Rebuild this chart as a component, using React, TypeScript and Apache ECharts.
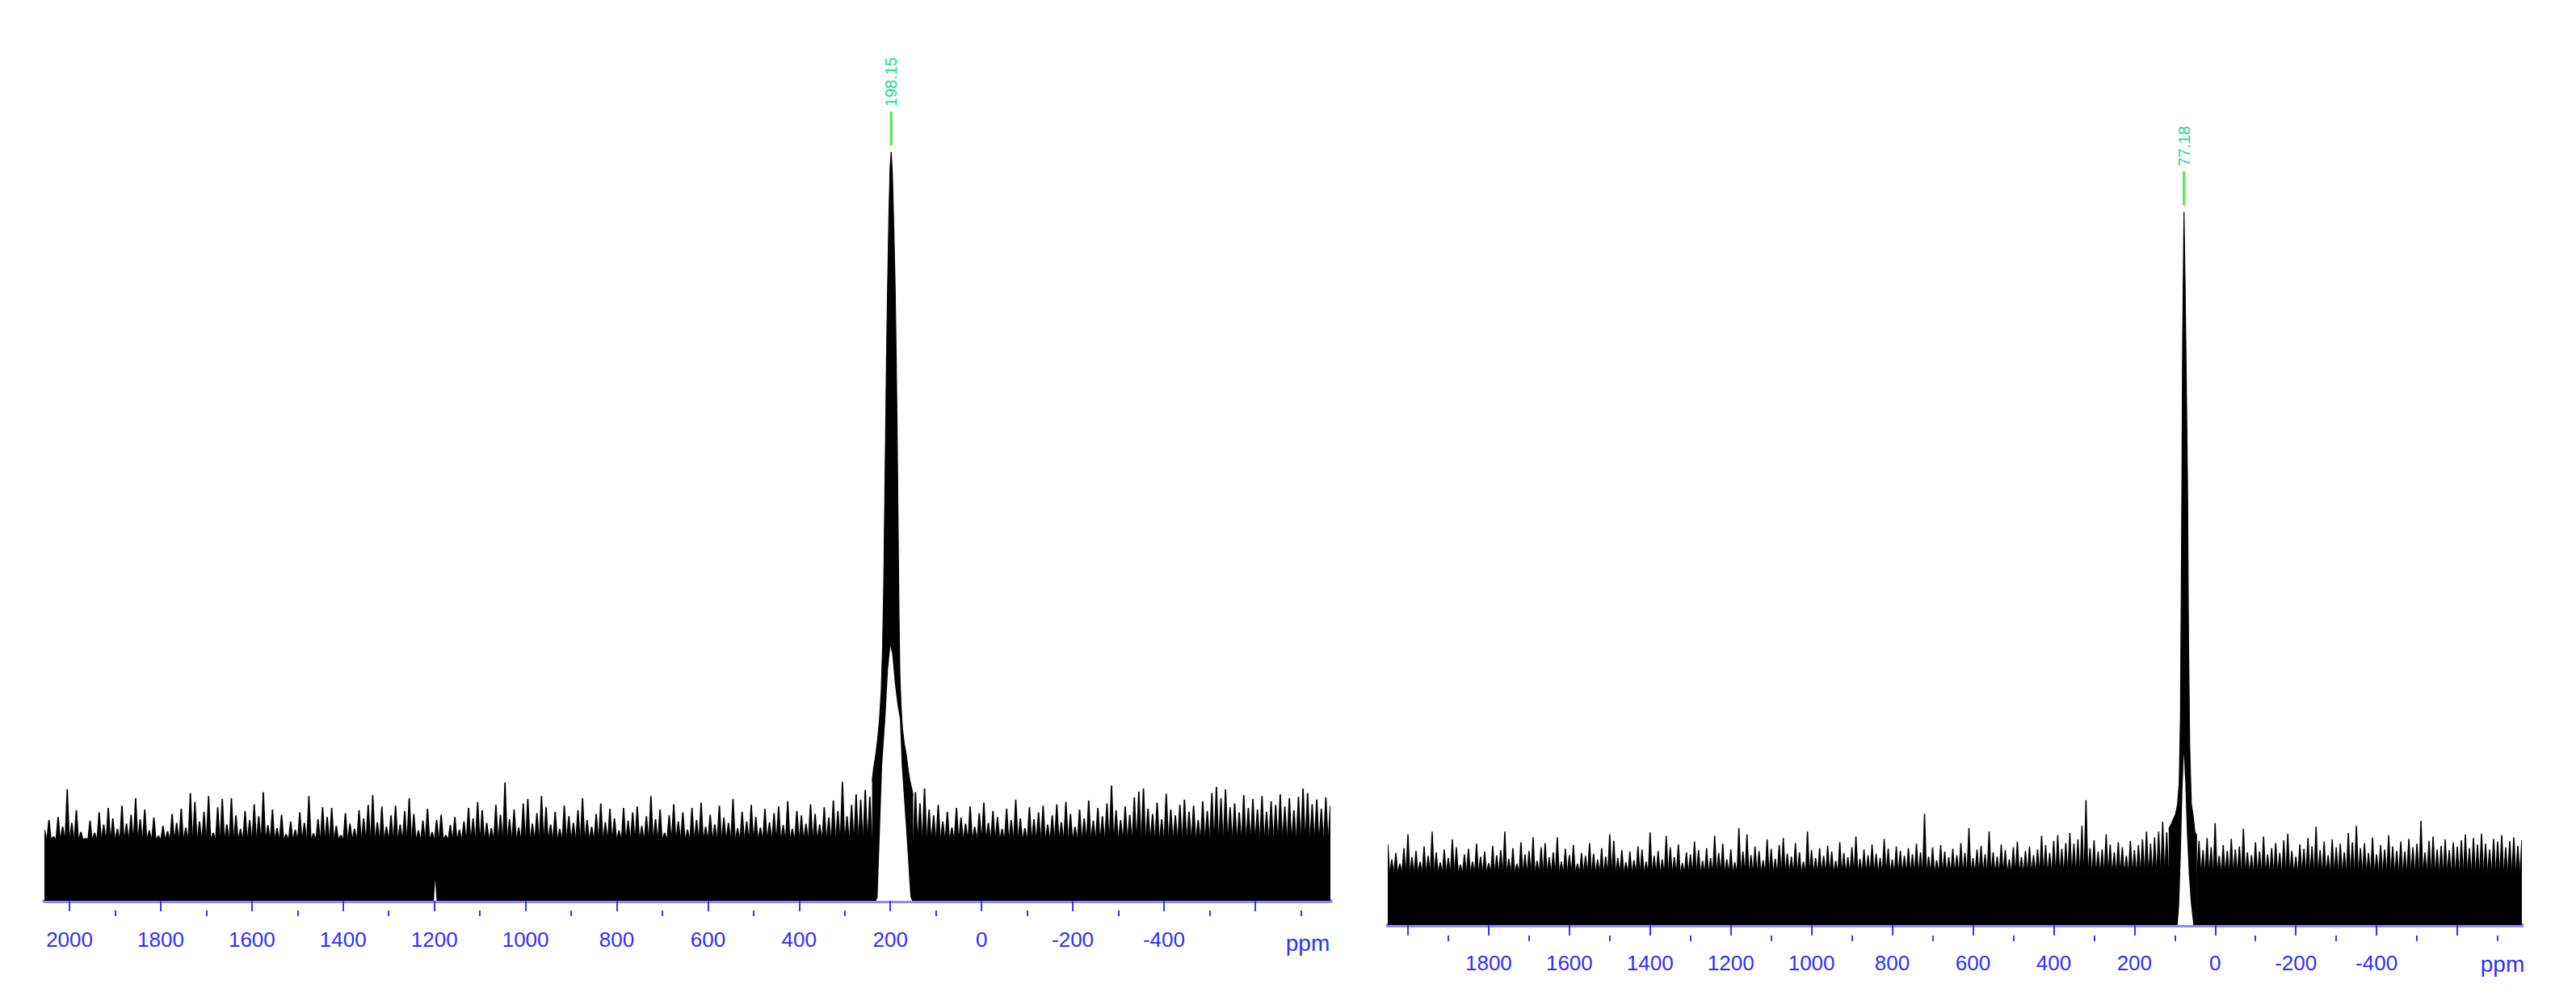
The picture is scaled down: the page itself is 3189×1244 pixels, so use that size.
import { useEffect, useRef } from "react";
import * as echarts from "echarts";

// ---------- axis ticks / labels (ppm) ----------
const majorTicks = [2000, 1800, 1600, 1400, 1200, 1000, 800, 600, 400, 200, 0, -200, -400, -600];
const minorTicks = [1900, 1700, 1500, 1300, 1100, 900, 700, 500, 300, 100, -100, -300, -500, -700];
const leftTickLabels = [2000, 1800, 1600, 1400, 1200, 1000, 800, 600, 400, 200, 0, -200, -400];
const rightTickLabels = [1800, 1600, 1400, 1200, 1000, 800, 600, 400, 200, 0, -200, -400];
const axisUnit = "ppm";

// ---------- left spectrum ----------
const leftRange = [-765, 2055];
const leftNoiseFloor = 8.2; // top of the solid black noise band
const leftNoiseAStart = 2055; // ppm of first value, 10 ppm apart
const leftNoiseA = [
  9.5, 10.8, 8.6, 11.2, 9.9, 14.9, 10.4, 12.1, 9.2, 8.4,
  10.7, 9.1, 11.8, 10.2, 12.4, 11.0, 9.6, 12.7, 10.3, 11.5,
  13.7, 10.9, 12.2, 9.4, 11.1, 8.7, 10.0, 9.3, 11.6, 10.4,
  12.3, 9.8, 14.4, 13.2, 10.6, 11.9, 14.0, 9.1, 12.5, 13.6,
  10.2, 13.7, 11.4, 9.6, 12.0, 10.8, 12.9, 11.3, 14.5, 10.1,
  12.2, 9.7, 11.5, 8.9, 10.6, 9.5, 11.8, 10.4, 14.0, 9.0,
  10.9, 12.5, 11.2, 12.4, 10.0, 8.8, 11.7, 10.3, 9.6, 12.1,
  11.0, 12.8, 14.1, 10.5, 12.6, 9.9, 11.4, 12.7, 10.2, 12.0,
  13.7, 11.6, 9.4, 10.7, 12.3, 9.2, 10.8, 11.5, 8.8, 10.1,
  11.2, 9.5, 10.6, 12.4, 11.0, 13.2, 12.1, 10.4, 9.7, 12.8,
  11.5, 15.8, 10.9, 12.2, 9.8, 13.0, 13.6, 10.3, 11.7, 14.0,
  12.5, 10.2, 11.9, 9.6, 12.7, 11.3, 10.4, 12.1, 13.7, 10.8,
  9.9, 11.6, 13.0, 10.5, 12.3, 11.0, 9.4, 12.4, 10.7, 11.8,
  12.6, 10.0, 11.3, 14.0, 10.9, 12.2, 9.1, 11.4, 12.9, 10.6,
  11.8, 9.5, 12.4, 10.8, 13.1, 9.9, 11.5, 10.2, 12.7, 11.1,
  10.4, 13.6, 9.7, 11.9, 10.6, 12.8, 11.2, 9.8, 12.3, 10.5,
  11.7, 12.6, 10.1, 13.3, 9.6, 12.0, 11.4, 10.3, 12.9, 11.6,
  10.2, 12.5, 11.1, 13.4, 12.0, 15.9, 11.3, 12.8, 14.2, 13.5,
  14.8, 13.9,
];
const leftPeakPpm = [240, 236, 232, 228, 224, 220, 217, 214.5, 212.5, 210.5, 208.5, 206, 203, 200.5, 198.15, 195.5, 192.5, 189.5, 187, 185, 183, 181, 179, 176.5, 173.5, 169.5, 165, 161, 157, 153, 150];
const leftPeakUpper = [16, 18, 19.5, 21.5, 24, 28, 34, 42, 52, 62, 72, 82, 92, 98, 100, 97, 90, 82, 72, 62, 50, 38, 30, 26, 23, 21, 19.5, 17.5, 16, 15, 14];
const leftPeakLowerPpm = [231, 228, 223, 218, 211, 205, 200, 196, 190, 184, 179, 175, 165, 156, 152];
const leftPeakLower = [0, 0.5, 9.2, 18.1, 24.3, 31, 34, 33, 29, 26, 24.3, 18.1, 9.2, 0.5, 0];
const leftGapPpm = [1201, 1198, 1195];
const leftGapLower = [0, 2.8, 0];
const leftNoiseBStart = 145;
const leftNoiseB = [
  14.5, 13.0, 15.0, 12.2, 11.4, 12.8, 10.6, 11.9, 9.8, 12.4,
  11.1, 10.3, 12.6, 9.9, 11.7, 13.1, 10.4, 12.0, 11.2, 9.6,
  12.3, 10.8, 13.5, 11.0, 9.7, 12.5, 10.9, 11.8, 12.7, 10.2,
  11.4, 12.9, 10.5, 13.2, 11.6, 9.9, 12.2, 11.0, 13.4, 10.7,
  12.4, 11.3, 13.0, 15.4, 12.1, 10.8, 12.6, 11.5, 13.8, 14.6,
  15.0, 12.3, 11.6, 13.1, 10.9, 14.3, 12.2, 11.4, 12.8, 13.5,
  11.9, 12.7, 10.8, 13.3, 12.0, 14.4, 15.2, 13.7, 14.9, 12.5,
  13.0, 11.8, 14.1, 12.4, 13.6, 12.2, 14.0, 11.9, 13.3, 12.8,
  14.2, 12.6, 13.7, 12.1, 13.9, 15.0, 14.4, 12.9, 13.5, 12.3,
  13.8, 12.7,
];
const leftPeak = { ppm: 198.15, height: 100 };
const leftYRange = [-1.294, 109.49];

// ---------- right spectrum ----------
const rightRange = [-760, 2050];
const rightNoiseFloor = 7.4;
const rightNoiseAStart = 2050;
const rightNoiseA = [
  11.3, 9.2, 10.1, 8.6, 10.8, 12.7, 9.5, 10.4, 8.9, 11.0,
  9.7, 13.1, 10.2, 8.8, 10.6, 9.4, 12.0, 10.9, 8.5, 9.9,
  10.7, 8.9, 11.4, 9.6, 10.3, 8.7, 11.1, 9.8, 10.5, 13.1,
  9.3, 10.8, 8.6, 11.6, 9.9, 10.4, 12.3, 9.0, 10.9, 11.5,
  9.5, 10.2, 12.3, 8.9, 10.7, 9.8, 11.2, 8.6, 10.1, 9.7,
  11.5, 10.0, 9.2, 10.8, 9.6, 12.7, 11.8, 9.4, 10.5, 8.8,
  10.3, 9.1, 11.0, 10.6, 8.9, 13.0, 9.7, 10.4, 9.2, 12.5,
  10.9, 9.5, 11.3, 8.7, 10.2, 9.9, 11.7, 10.5, 9.0, 10.8,
  9.4, 12.5, 10.1, 11.4, 9.2, 10.6, 8.8, 13.6, 10.3, 12.7,
  9.8, 11.0, 10.4, 9.1, 12.0, 10.7, 9.3, 11.2, 12.2, 10.0,
  9.6, 11.5, 10.2, 8.9, 13.1, 10.5, 9.4, 10.8, 9.7, 11.1,
  10.3, 9.0, 11.6, 10.1, 9.5, 10.9, 12.4, 9.3, 10.6, 9.8,
  11.3, 10.0, 9.4, 12.1, 10.7, 9.2, 11.0, 10.4, 9.7, 10.8,
  9.9, 11.4, 10.2, 15.6, 9.6, 10.9, 9.1, 11.2, 10.3, 9.5,
  10.7, 9.8, 11.5, 10.1, 13.6, 9.4, 10.6, 11.1, 9.9, 13.1,
  10.2, 9.6, 11.3, 10.5, 9.2, 10.9, 11.7, 9.5, 10.4, 11.0,
  9.8, 10.6, 12.5, 11.2, 10.1, 11.8, 12.6, 10.7, 11.5, 12.9,
  11.4, 12.0, 13.9, 17.5, 10.8, 11.9, 10.3, 10.6, 12.7, 11.3,
  10.2, 11.6, 10.9, 9.7, 11.8, 10.5, 11.2, 12.0, 13.1, 11.4,
  12.3, 13.1, 14.5, 13.0,
];
const rightPeakPpm = [115, 110, 104, 98, 93, 89, 86, 83, 80.5, 77.18, 74.5, 71, 68.5, 66, 63, 59, 55, 50, 45];
const rightPeakUpper = [13.5, 14.0, 14.8, 15.5, 17.0, 20.0, 29.0, 55.0, 82.0, 100, 90, 74, 62, 40, 25, 17, 15.5, 13.0, 12.5];
const rightPeakLowerPpm = [93, 89, 85, 81, 77.5, 74, 70, 65, 60, 54];
const rightPeakLower = [0, 3, 10, 19, 24, 20, 13, 7, 3, 0];
const rightNoiseBStart = 40;
const rightNoiseB = [
  11.8, 10.5, 12.2, 10.9, 14.3, 9.7, 11.2, 10.4, 12.1, 10.6,
  11.0, 13.5, 10.2, 9.8, 11.6, 10.3, 12.4, 9.9, 10.8, 11.5,
  10.1, 11.9, 12.8, 10.4, 9.6, 11.3, 10.7, 12.2, 11.0, 13.8,
  10.5, 11.7, 9.8, 12.0, 10.9, 11.4, 10.2, 12.9, 11.6, 13.9,
  10.8, 11.5, 10.1, 12.3, 9.9, 11.2, 10.6, 12.6, 11.0, 10.4,
  11.7, 10.3, 12.1, 10.9, 11.4, 14.6, 10.2, 11.8, 12.4, 10.6,
  11.1, 12.0, 10.5, 11.6, 11.0, 11.9, 12.7, 10.8, 12.2, 11.3,
  12.8, 11.4, 10.6, 12.1, 11.7, 12.6, 10.9, 11.8, 12.3, 11.1,
  11.9,
];
const rightPeak = { ppm: 77.18, height: 100 };
const rightYRange = [-1.472, 112.68];

// ---------- helpers ----------
const STEP = 10;
function noisePairs(start: number, vals: number[]) {
  return vals.map((v, i) => [start - i * STEP, v]);
}
function zip(xs: number[], ys: number[]) {
  return xs.map((x, i) => [x, ys[i]]);
}

const AXIS_BLUE = "#8a8aff";
const TICK_BLUE = "#3434ff";
const LABEL_BLUE = "#2f2fff";
const FONT = "Liberation Sans, Arial, sans-serif";

// noise: each reading is a spike rising from the solid band
function noiseSeries(idx: number, data: number[][], floor: number) {
  return {
    type: "custom",
    xAxisIndex: idx,
    yAxisIndex: idx,
    data,
    encode: { x: 0, y: 1 },
    clip: true,
    silent: true,
    z: 2,
    renderItem: (_params: any, api: any) => {
      const x = api.value(0);
      const v = api.value(1);
      const top = api.coord([x, v]);
      const fl = api.coord([x, floor]);
      const zero = api.coord([x, 0]);
      const w = Math.abs(api.size([STEP, 0])[0]) / 2;
      return {
        type: "group",
        children: [
          {
            type: "rect",
            shape: { x: top[0] - w - 0.6, y: fl[1] - 0.5, width: 2 * w + 1.2, height: zero[1] - fl[1] + 0.5 },
            style: { fill: "#000" },
          },
          {
            type: "polygon",
            shape: {
              points: [
                [top[0] - w - 0.4, fl[1]],
                [top[0] - 0.3 * w, top[1]],
                [top[0] + 0.3 * w, top[1]],
                [top[0] + w + 0.4, fl[1]],
              ],
            },
            style: { fill: "#000" },
          },
        ],
      };
    },
  };
}

function peakSeries(idx: number, data: number[][]) {
  return {
    type: "line",
    xAxisIndex: idx,
    yAxisIndex: idx,
    data,
    symbol: "none",
    showSymbol: false,
    lineStyle: { color: "#000000", width: 1.2 },
    areaStyle: { color: "#000000", opacity: 1, origin: "auto" },
    z: 2,
    silent: true,
  };
}
function hollowSeries(idx: number, data: number[][]) {
  return {
    type: "line",
    xAxisIndex: idx,
    yAxisIndex: idx,
    data,
    symbol: "none",
    showSymbol: false,
    lineStyle: { width: 0, color: "#ffffff" },
    areaStyle: { color: "#ffffff", opacity: 1, origin: "auto" },
    z: 3,
    silent: true,
  };
}

function peakLabelSeries(idx: number, peak: { ppm: number; height: number }) {
  return {
    type: "custom",
    xAxisIndex: idx,
    yAxisIndex: idx,
    clip: false,
    z: 10,
    data: [[peak.ppm, peak.height]],
    renderItem: (_params: any, api: any) => {
      const p = api.coord([api.value(0), api.value(1)]);
      return {
        type: "group",
        children: [
          {
            type: "line",
            shape: { x1: p[0], y1: p[1] - 8, x2: p[0], y2: p[1] - 50 },
            style: { stroke: "#4fe64f", lineWidth: 3 },
          },
          {
            type: "text",
            x: p[0],
            y: p[1] - 56,
            rotation: Math.PI / 2,
            style: {
              text: peak.ppm.toFixed(2),
              fill: "#22d68c",
              fontSize: 20,
              fontFamily: FONT,
              align: "left",
              verticalAlign: "middle",
            },
          },
        ],
      };
    },
  };
}

function majorAxis(grid: number, range: number[], labels: number[], margin: number) {
  return {
    type: "value",
    gridIndex: grid,
    inverse: true,
    min: range[0],
    max: range[1],
    position: "bottom",
    axisLine: { show: true, lineStyle: { color: AXIS_BLUE, width: 5 } },
    axisTick: { show: true, length: 13, customValues: majorTicks, lineStyle: { color: TICK_BLUE, width: 2 } },
    axisLabel: {
      show: true,
      customValues: labels,
      formatter: (v: number) => String(v),
      color: LABEL_BLUE,
      fontSize: 26,
      fontFamily: FONT,
      margin,
    },
    splitLine: { show: false },
  };
}
function minorAxis(grid: number, range: number[]) {
  return {
    type: "value",
    gridIndex: grid,
    inverse: true,
    min: range[0],
    max: range[1],
    position: "bottom",
    axisLine: { show: false },
    axisTick: { show: true, length: 7, customValues: minorTicks, lineStyle: { color: TICK_BLUE, width: 2 } },
    axisLabel: { show: false },
    splitLine: { show: false },
  };
}

export default function App() {
  const ref = useRef<HTMLDivElement>(null);
  useEffect(() => {
    if (!ref.current) return;
    const chart = echarts.init(ref.current, undefined, { renderer: "svg" });

    const leftNoise = [...noisePairs(leftNoiseAStart, leftNoiseA), ...noisePairs(leftNoiseBStart, leftNoiseB)];
    const rightNoise = [...noisePairs(rightNoiseAStart, rightNoiseA), ...noisePairs(rightNoiseBStart, rightNoiseB)];

    chart.setOption({
      animation: false,
      backgroundColor: "#ffffff",
      grid: [
        { left: 55, top: 100, width: 1592, height: 1027, containLabel: false, outerBoundsMode: "none" },
        { left: 1718, top: 150, width: 1404, height: 1008, containLabel: false, outerBoundsMode: "none" },
      ],
      xAxis: [
        majorAxis(0, leftRange, leftTickLabels, 23),
        majorAxis(1, rightRange, rightTickLabels, 21),
        minorAxis(0, leftRange),
        minorAxis(1, rightRange),
      ],
      yAxis: [
        { type: "value", gridIndex: 0, min: leftYRange[0], max: leftYRange[1], show: false },
        { type: "value", gridIndex: 1, min: rightYRange[0], max: rightYRange[1], show: false },
      ],
      graphic: [
        {
          type: "text",
          x: 1619,
          y: 1167,
          style: { text: axisUnit, fill: LABEL_BLUE, fontSize: 28, fontFamily: FONT, align: "center", verticalAlign: "middle" },
        },
        {
          type: "text",
          x: 3098,
          y: 1193,
          style: { text: axisUnit, fill: LABEL_BLUE, fontSize: 28, fontFamily: FONT, align: "center", verticalAlign: "middle" },
        },
      ],
      series: [
        noiseSeries(0, leftNoise, leftNoiseFloor),
        peakSeries(0, zip(leftPeakPpm, leftPeakUpper)),
        hollowSeries(0, zip(leftPeakLowerPpm, leftPeakLower)),
        hollowSeries(0, zip(leftGapPpm, leftGapLower)),
        peakLabelSeries(0, leftPeak),
        noiseSeries(1, rightNoise, rightNoiseFloor),
        peakSeries(1, zip(rightPeakPpm, rightPeakUpper)),
        hollowSeries(1, zip(rightPeakLowerPpm, rightPeakLower)),
        peakLabelSeries(1, rightPeak),
      ],
    });
    return () => chart.dispose();
  }, []);
  return (
    <div
      ref={ref}
      style={{ position: "fixed", left: 0, top: 0, width: 3189, height: 1244, background: "#fff" }}
    />
  );
}
